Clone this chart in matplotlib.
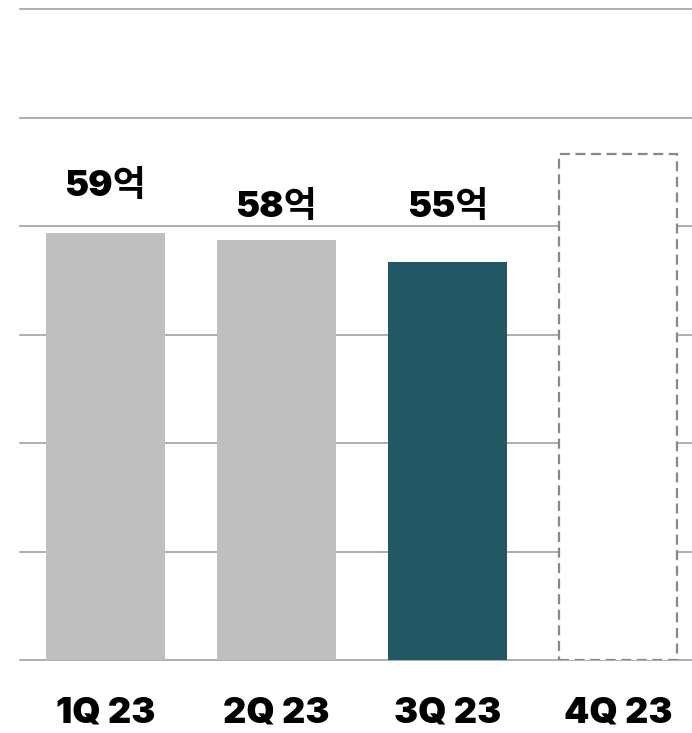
import matplotlib.pyplot as plt

plt.rcParams['font.family'] = ['Inter', 'Noto Sans CJK KR', 'DejaVu Sans']

quarters = ['1Q 23', '2Q 23', '3Q 23', '4Q 23']
values = [59, 58, 55]
value_labels = ['59억', '58억', '55억']
label_y = [65.5, 62.6, 62.6]
forecast = 70
bar_colors = ['#bfbfbf', '#bfbfbf', '#225866']
grid_ticks = [0, 15, 30, 45, 60, 75, 90]

fig = plt.figure(figsize=(6.92, 7.33), dpi=100)
ax = fig.add_axes([20 / 692, 73 / 733, 672 / 692, 651 / 733])

for g in grid_ticks:
    ax.axhline(g, color='#999999', linewidth=1.1, zorder=1, clip_on=False)

x = list(range(len(quarters)))
ax.bar(x[:3], values, width=0.7, color=bar_colors, zorder=2)
ax.bar(x[3], forecast, width=0.69, facecolor='white', edgecolor='#888888',
       linewidth=1.6, linestyle=(0, (4.5, 2.5)), zorder=3)

for xi, txt, ly in zip(x, value_labels, label_y):
    ax.text(xi, ly, txt, ha='center', va='center', fontsize=26,
            fontweight='black', color='black')

ax.set_xlim(-0.5, 3.43)
ax.set_ylim(0, 90)
ax.set_yticks([])
ax.set_xticks(x)
ax.set_xticklabels(quarters, fontsize=26, fontweight='black')
ax.tick_params(axis='x', length=0, pad=26)
for s in ax.spines.values():
    s.set_visible(False)

plt.savefig('out.png', dpi=100)
